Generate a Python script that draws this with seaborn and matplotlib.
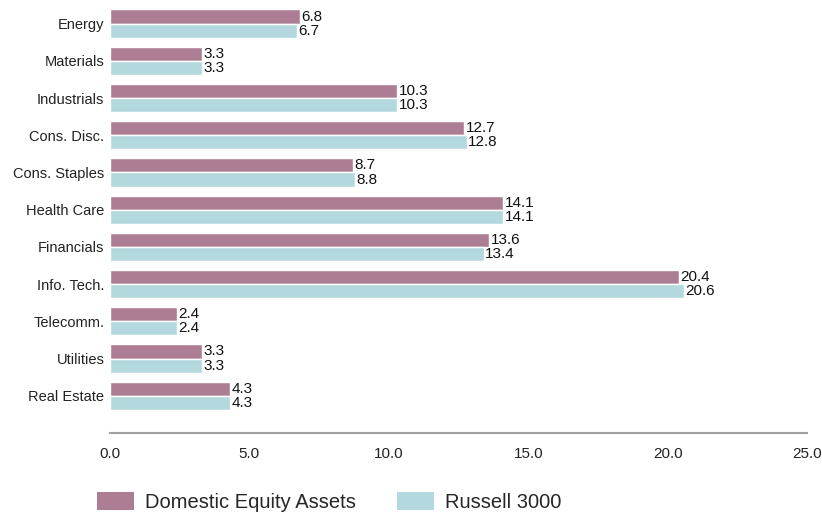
import matplotlib
matplotlib.use("Agg")
import matplotlib.pyplot as plt
import seaborn as sns
import pandas as pd
from matplotlib.patches import Patch

categories = ["Energy", "Materials", "Industrials", "Cons. Disc.", "Cons. Staples",
              "Health Care", "Financials", "Info. Tech.", "Telecomm.", "Utilities", "Real Estate"]
domestic = [6.8, 3.3, 10.3, 12.7, 8.7, 14.1, 13.6, 20.4, 2.4, 3.3, 4.3]
russell = [6.7, 3.3, 10.3, 12.8, 8.8, 14.1, 13.4, 20.6, 2.4, 3.3, 4.3]
series = ["Domestic Equity Assets", "Russell 3000"]
colors = ["#AD7D93", "#B3D8DE"]
xticks = [0, 5, 10, 15, 20, 25]

df = pd.DataFrame({
    "Sector": categories * 2,
    "Value": domestic + russell,
    "Series": [series[0]] * len(categories) + [series[1]] * len(categories),
})

sns.set_style("white")
plt.rcParams['font.family'] = ['Liberation Sans', 'DejaVu Sans']

fig = plt.figure(figsize=(8.22, 5.13), dpi=100)
ax = fig.add_axes([110/822, 1 - 433/513, 697/822, (433 - 5)/513])

sns.barplot(data=df, x="Value", y="Sector", hue="Series", order=categories,
            hue_order=series, palette=colors, saturation=1, width=0.76, orient="h",
            edgecolor="white", linewidth=1, ax=ax, legend=False)

for cont in ax.containers:
    ax.bar_label(cont, fmt="%.1f", padding=1, fontsize=11, color="#111111")

ax.set_xlim(0, 25)
ax.set_ylim(11, -0.5)
ax.set_xticks(xticks)
ax.set_xticklabels([f"{t:.1f}" for t in xticks], fontsize=11, color="#222222")
ax.tick_params(axis="x", length=0, pad=10)
ax.tick_params(axis="y", length=0, pad=4, labelsize=10.5, labelcolor="#222222")
ax.set_xlabel("")
ax.set_ylabel("")
for s in ["top", "right", "left"]:
    ax.spines[s].set_visible(False)
ax.spines["bottom"].set_color("#A0A0A0")
ax.spines["bottom"].set_linewidth(1.5)

handles = [Patch(facecolor=c, edgecolor="none") for c in colors]
fig.legend(handles, series, loc="center left", bbox_to_anchor=(79/822, 1 - 502/513),
           ncol=2, frameon=False, fontsize=14.5, handlelength=1.85, handleheight=1.0,
           columnspacing=2.0, handletextpad=0.55)

fig.savefig("out.png", dpi=100)
